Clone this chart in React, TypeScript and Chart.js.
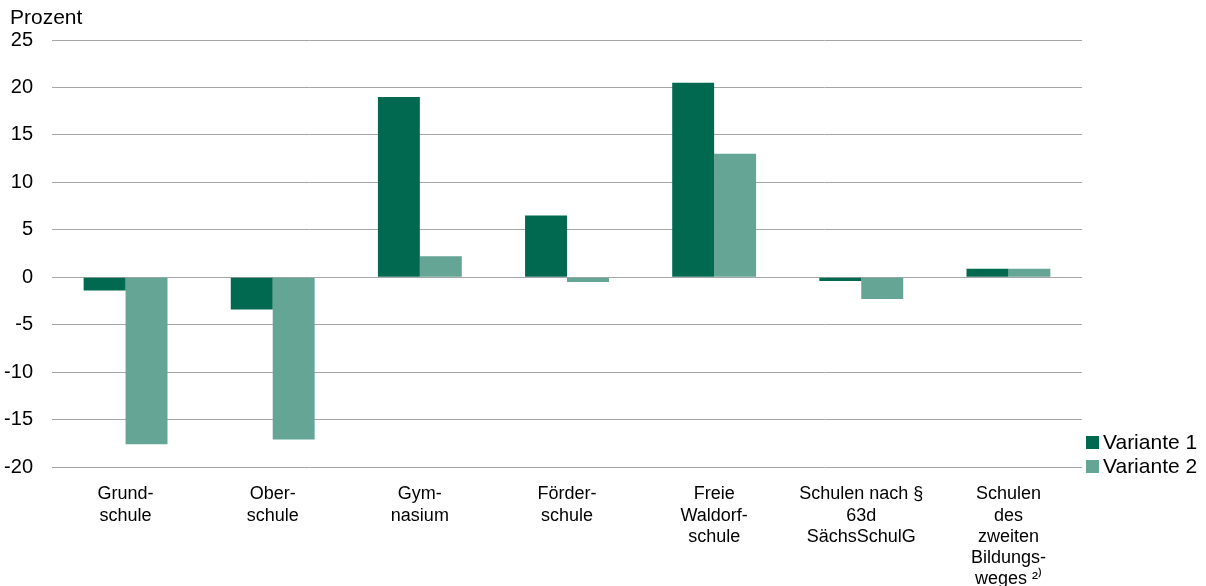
import React, { useEffect, useRef } from "react";
import { Chart, registerables } from "chart.js";

Chart.register(...registerables);

const categories: string[][] = [
  ["Grund-", "schule"],
  ["Ober-", "schule"],
  ["Gym-", "nasium"],
  ["Förder-", "schule"],
  ["Freie", "Waldorf-", "schule"],
  ["Schulen nach §", "63d", "SächsSchulG"],
  ["Schulen", "des", "zweiten", "Bildungs-", "weges ²⁾"],
];

const variante1: number[] = [-1.4, -3.4, 19.0, 6.5, 20.5, -0.4, 0.9];
const variante2: number[] = [-17.6, -17.1, 2.2, -0.5, 13.0, -2.3, 0.9];

const seriesLabels = ["Variante 1", "Variante 2"];
const seriesColors = ["#00694f", "#65a596"];
const yTitle = "Prozent";

const FONT = "'Liberation Sans', Arial, sans-serif";

const overlayPlugin = {
  id: "overlay",
  afterDraw(chart: any) {
    const ctx = chart.ctx;
    ctx.save();
    ctx.fillStyle = "#000";
    ctx.font = `21px ${FONT}`;
    ctx.textBaseline = "middle";
    ctx.textAlign = "left";
    ctx.fillText(yTitle, 10, 18);
    // legend
    const ds = chart.data.datasets;
    const x0 = chart.chartArea.right + 4;
    const y0 = 442;
    ds.forEach((d: any, i: number) => {
      const y = y0 + i * 24;
      ctx.fillStyle = d.backgroundColor;
      ctx.fillRect(x0, y - 6, 13, 13);
      ctx.fillStyle = "#000";
      ctx.fillText(d.label, x0 + 17, y + 1);
    });
    ctx.restore();
  },
};

export default function App() {
  const ref = useRef<HTMLCanvasElement | null>(null);
  useEffect(() => {
    document.body.style.margin = "0";
    const chart = new Chart(ref.current as HTMLCanvasElement, {
      type: "bar",
      data: {
        labels: categories as any,
        datasets: [
          {
            label: seriesLabels[0],
            data: variante1,
            backgroundColor: seriesColors[0],
            categoryPercentage: 0.57,
            barPercentage: 1,
          },
          {
            label: seriesLabels[1],
            data: variante2,
            backgroundColor: seriesColors[1],
            categoryPercentage: 0.57,
            barPercentage: 1,
          },
        ],
      },
      options: {
        animation: false,
        responsive: false,
        maintainAspectRatio: false,
        layout: { padding: { top: 40, right: 124, left: 0, bottom: 0 } },
        plugins: { legend: { display: false }, tooltip: { enabled: false } },
        scales: {
          x: {
            grid: { display: false },
            border: { display: false },
            ticks: {
              color: "#000",
              font: { family: FONT, size: 18, lineHeight: 1.17 },
              padding: 9,
              maxRotation: 0,
              autoSkip: false,
            },
            afterFit(scale: any) {
              scale.height = 119;
            },
          },
          y: {
            min: -20,
            max: 25,
            ticks: {
              stepSize: 5,
              color: "#000",
              font: { family: FONT, size: 20 },
              padding: 19,
            },
            grid: { color: "#a6a6a6", lineWidth: 1, drawTicks: false },
            border: { display: false },
            afterFit(scale: any) {
              scale.width = 52;
            },
          },
        },
      },
      plugins: [overlayPlugin],
    });
    return () => chart.destroy();
  }, []);
  return (
    <div style={{ width: 1206, height: 586 }}>
      <canvas ref={ref} width={1206} height={586} style={{ display: "block" }} />
    </div>
  );
}
